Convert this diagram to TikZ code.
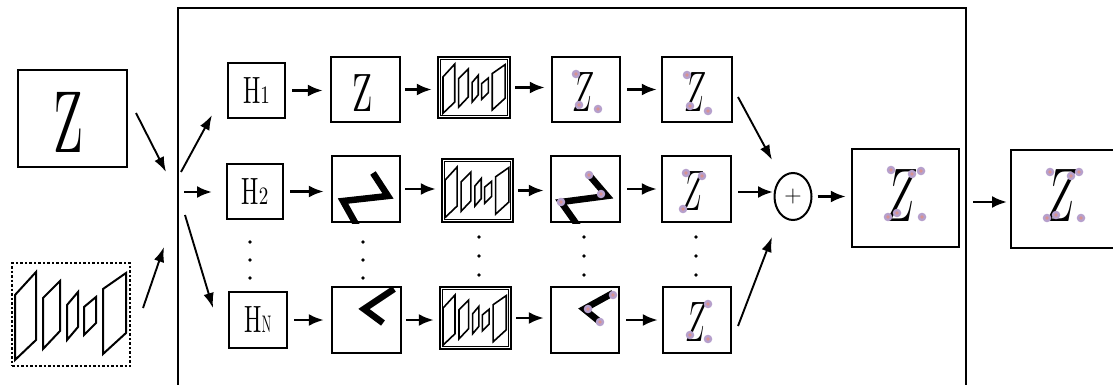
\documentclass[tikz,border=0pt]{standalone}
\usetikzlibrary{arrows.meta,shapes.geometric}
\definecolor{dotout}{RGB}{182,160,204}
\definecolor{dotin}{RGB}{216,146,146}
\newcommand\KeyPt[1]{\fill[dotout] #1 circle (4.3pt); \fill[dotin] #1 circle (1.8pt);}
\newcommand\VDots[2]{\fill #1 circle (1.8pt); \fill #1 ++(0,{#2}) circle (1.8pt); \fill #1 ++(0,{2*#2}) circle (1.8pt);}
\tikzset{
  box/.style={draw, line width=2.4pt, inner sep=0pt},
  dashbox/.style={draw, line width=1.5pt, dash pattern=on 2.5pt off 2pt, inner sep=0pt},
  txt/.style={inner sep=0pt},
  arr/.style={-{Latex[length=15pt,width=12pt]}, line width=2.6pt},
  darr/.style={-{Latex[length=15pt,width=10.5pt]}, line width=1.9pt},
  thick stroke/.style={line width=6.5pt, line join=miter},
  encdec/.pic={
    \draw (0,23)--(0,88)--(21,68)--(21,0)--cycle;
    \draw (28,26)--(28,77)--(45,59)--(45,9)--cycle;
    \draw (52,33)--(52,68)--(63,55)--(63,20)--cycle;
    \draw (69,35)--(69,63)--(81,51)--(81,25)--cycle;
    \draw (88,17)--(88,82)--(111,61)--(111,1)--cycle;
  }
}
\newcommand\InnerFrame[1]{\draw[line width=1pt] ([shift={(3.4pt,3.4pt)}]#1.south west) rectangle ([shift={(-3.4pt,-3.4pt)}]#1.north east);}
\begin{document}
\begin{tikzpicture}[x=1pt,y=-1pt]
\useasboundingbox (0,0) rectangle (1113,385);
\clip (0,0) rectangle (1113,385);

% outer frame (open at bottom)
\draw[line width=2.2pt] (178,392) -- (178,8) -- (966,8) -- (966,392);

% inputs
\node[box, minimum width=109pt, minimum height=97pt] (zin) at (72.5,118.5) {};
\node[txt] (zint) at (68,122) {\scalebox{4.9}[8.8]{Z}};
\node[dashbox, minimum width=118pt, minimum height=103pt] (encin) at (71,314.5) {};
\pic[line width=2pt] at (15,272) {encdec};

\coordinate (zs) at (136,113); \coordinate (ze) at (166,172);
\coordinate (es) at (143,308); \coordinate (ee) at (164,247);
\draw[darr] (zs) -- (ze);
\draw[darr] (es) -- (ee);

\coordinate (s1) at (181,172); \coordinate (t1) at (212,115);
\coordinate (s2) at (184,192); \coordinate (t2) at (212,192);
\coordinate (s3) at (185,215); \coordinate (t3) at (213,308);
\draw[darr] (s1) -- (t1);
\draw[arr] (s2) -- (t2);
\draw[darr] (s3) -- (t3);

% ---- row 1
\node[box, minimum width=57pt, minimum height=55pt] (h1) at (256.5,90.5) {\scalebox{2.3}[3.8]{H}\scalebox{1.9}[2.5]{1}};
\node[box, minimum width=69pt, minimum height=65pt] (z1) at (365.5,89.5) {};
\node[txt] at (363,93.5) {\scalebox{3.3}[5.4]{Z}};
\node[box, minimum width=72pt, minimum height=61pt] (e1) at (474,87.5) {};
\InnerFrame{e1}
\pic[line width=1.6pt, scale=0.56] at (443,64) {encdec};
\node[box, minimum width=68pt, minimum height=65pt] (a1) at (586,89.5) {};
\node[txt] at (583,92.5) {\scalebox{2.9}[5.7]{$Z$}};
\KeyPt{(576,74)} \KeyPt{(579,105)} \KeyPt{(598,109)}
\node[box, minimum width=70pt, minimum height=65pt] (b1) at (697,89.5) {};
\node[txt] at (695,92.5) {\scalebox{2.9}[5.7]{$Z$}};
\KeyPt{(687,75)} \KeyPt{(690,106)} \KeyPt{(708,111)}

% ---- row 2
\node[box, minimum width=56pt, minimum height=55pt] (h2) at (255,191.5) {\scalebox{2.3}[3.8]{H}\scalebox{1.9}[2.5]{2}};
\node[box, minimum width=68pt, minimum height=66pt] (z2) at (366,189) {};
\begin{scope}
  \clip (z2.south west) rectangle (z2.north east);
  \draw[thick stroke] (357,226) -- (343,201) -- (388,196) -- (373,173);
\end{scope}
\node[box, minimum width=71pt, minimum height=63pt] (e2) at (477.5,190.5) {};
\InnerFrame{e2}
\pic[line width=1.6pt, scale=0.575] at (445,167) {encdec};
\node[box, minimum width=69pt, minimum height=66pt] (a2) at (585.5,189) {};
\begin{scope}
  \clip (a2.south west) rectangle (a2.north east);
  \draw[thick stroke] (578,226) -- (561,202) -- (607,196) -- (589,175);
\end{scope}
\KeyPt{(589,175)} \KeyPt{(601,194)} \KeyPt{(561,202)}
\node[box, minimum width=69pt, minimum height=66pt] (b2) at (696.5,189) {};
\node[txt] at (693.5,191.5) {\scalebox{2.9}[5.7]{$Z$}};
\KeyPt{(686,173)} \KeyPt{(702,176)} \KeyPt{(683,209)}

% ---- vertical dots
\VDots{(250,242)}{18}
\VDots{(363,242)}{18}
\VDots{(479,237)}{19}
\VDots{(584,237)}{19}
\VDots{(696,237)}{19}

% ---- row N
\node[box, minimum width=58pt, minimum height=56pt] (hN) at (258,320) {\scalebox{2.3}[3.8]{H}\scalebox{1.25}[2.4]{N}};
\node[box, minimum width=69pt, minimum height=66pt] (zN) at (366.5,320) {};
\draw[thick stroke] (394,289) -- (364,309) -- (383,323);
\node[box, minimum width=71pt, minimum height=62pt] (eN) at (475.5,318) {};
\InnerFrame{eN}
\pic[line width=1.6pt, scale=0.57] at (443,295) {encdec};
\node[box, minimum width=68pt, minimum height=66pt] (aN) at (585,320) {};
\draw[thick stroke] (613,293) -- (584,309) -- (600,322);
\KeyPt{(613,295)} \KeyPt{(588,309)} \KeyPt{(600,322)}
\node[box, minimum width=68pt, minimum height=66pt] (bN) at (697,320) {};
\node[txt] at (696,322) {\scalebox{2.9}[5.7]{$Z$}};
\KeyPt{(708,304)} \KeyPt{(690,335)} \KeyPt{(708,339)}

% ---- row arrows
\foreach \r in {1,2,N}{
  \draw[arr, shorten <=6pt, shorten >=7pt] (h\r.east) -- (h\r.east -| z\r.west);
  \draw[arr, shorten <=4pt, shorten >=5pt] (z\r.east) -- (z\r.east -| e\r.west);
  \draw[arr, shorten <=4pt, shorten >=6pt] (e\r.east) -- (e\r.east -| a\r.west);
  \draw[arr, shorten <=6pt, shorten >=4pt] (a\r.east) -- (a\r.east -| b\r.west);
}

% ---- aggregation
\node[ellipse, draw, line width=2pt, minimum width=37pt, minimum height=47pt, inner sep=0pt] (plus) at (793,196.5) {\fontsize{24}{24}\selectfont +};
\coordinate (p1s) at (738,97);  \coordinate (p1e) at (772,160);
\coordinate (p2s) at (738,192); \coordinate (p2e) at (773,192);
\coordinate (p3s) at (738,326); \coordinate (p3e) at (772,237);
\draw[darr] (p1s) -- (p1e);
\draw[arr] (p2s) -- (p2e);
\draw[darr] (p3s) -- (p3e);

\node[box, minimum width=107pt, minimum height=98pt] (big) at (905.5,198) {};
\node[txt] at (902,196) {\scalebox{4.3}[7.6]{$Z$}};
\KeyPt{(891,170)} \KeyPt{(912,174)} \KeyPt{(921,171)} \KeyPt{(897,213)} \KeyPt{(888,217)} \KeyPt{(922,217)}
\draw[arr, shorten <=5pt, shorten >=5pt] (plus.east) -- (plus.east -| big.west);

\node[box, minimum width=114pt, minimum height=98pt] (final) at (1068,199) {};
\node[txt] at (1062,196) {\scalebox{4.3}[7.6]{$Z$}};
\KeyPt{(1050,172)} \KeyPt{(1071,176)} \KeyPt{(1079,172)} \KeyPt{(1056,215)} \KeyPt{(1047,218)} \KeyPt{(1081,218)}
\coordinate (fs) at (973,202); \coordinate (fe) at (1007,202);
\draw[arr] (fs) -- (fe);
\end{tikzpicture}
\end{document}
